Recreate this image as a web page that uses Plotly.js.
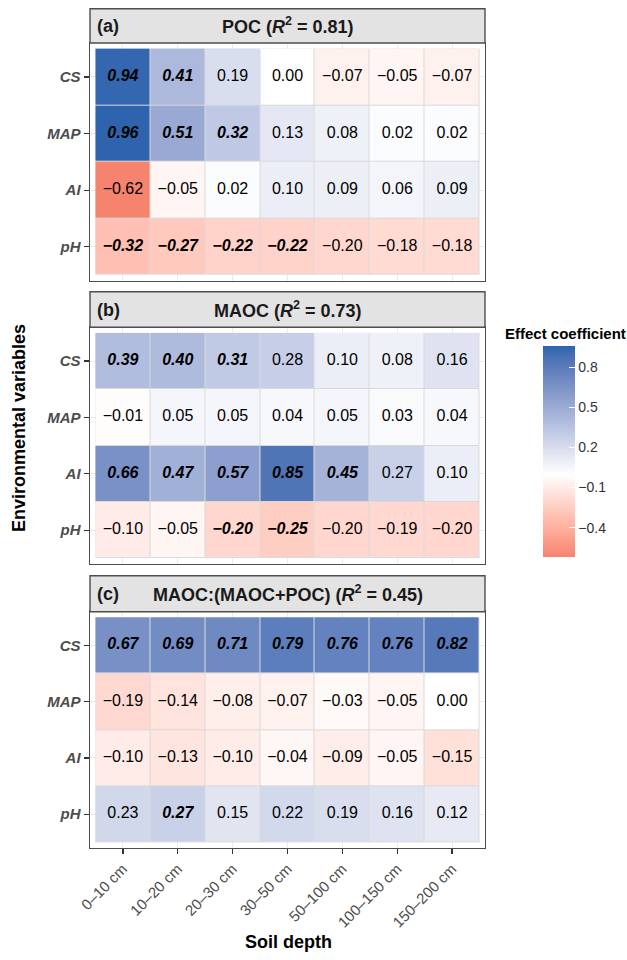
<!DOCTYPE html>
<html>
<head>
<meta charset="utf-8">
<script src="https://cdn.plot.ly/plotly-3.0.1.min.js"></script>
<style>html,body{margin:0;padding:0;background:#fff;}#chart{width:627px;height:960px;}</style>
</head>
<body>
<div id="chart"></div>
<script>
// ---------- data ----------
const depths = ["0–10 cm","10–20 cm","20–30 cm","30–50 cm","50–100 cm","100–150 cm","150–200 cm"];
const variables = ["CS","MAP","AI","pH"];

const pocValues = [
  [0.94, 0.41, 0.19, 0.00, -0.07, -0.05, -0.07],
  [0.96, 0.51, 0.32, 0.13, 0.08, 0.02, 0.02],
  [-0.62, -0.05, 0.02, 0.10, 0.09, 0.06, 0.09],
  [-0.32, -0.27, -0.22, -0.22, -0.20, -0.18, -0.18]
];
const pocSig = [
  [1,1,0,0,0,0,0],
  [1,1,1,0,0,0,0],
  [0,0,0,0,0,0,0],
  [1,1,1,1,0,0,0]
];
const maocValues = [
  [0.39, 0.40, 0.31, 0.28, 0.10, 0.08, 0.16],
  [-0.01, 0.05, 0.05, 0.04, 0.05, 0.03, 0.04],
  [0.66, 0.47, 0.57, 0.85, 0.45, 0.27, 0.10],
  [-0.10, -0.05, -0.20, -0.25, -0.20, -0.19, -0.20]
];
const maocSig = [
  [1,1,1,0,0,0,0],
  [0,0,0,0,0,0,0],
  [1,1,1,1,1,0,0],
  [0,0,1,1,0,0,0]
];
const ratioValues = [
  [0.67, 0.69, 0.71, 0.79, 0.76, 0.76, 0.82],
  [-0.19, -0.14, -0.08, -0.07, -0.03, -0.05, 0.00],
  [-0.10, -0.13, -0.10, -0.04, -0.09, -0.05, -0.15],
  [0.23, 0.27, 0.15, 0.22, 0.19, 0.16, 0.12]
];
const ratioSig = [
  [1,1,1,1,1,1,1],
  [0,0,0,0,0,0,0],
  [0,0,0,0,0,0,0],
  [0,1,0,0,0,0,0]
];
const panelTags = ["(a)", "(b)", "(c)"];
const panelNames = ["POC", "MAOC", "MAOC:(MAOC+POC)"];
const panelR2 = ["0.81", "0.73", "0.45"];
const colorbarTicks = [0.8, 0.5, 0.2, -0.1, -0.4];

// ---------- styling helpers ----------
const W = 627, H = 960;
const fx = p => p / W;
const fy = p => 1 - p / H;
const FONT = "Liberation Sans, Arial, Helvetica, sans-serif";

const allVals = pocValues.concat(maocValues, ratioValues).flat();
const zmin = Math.min(...allVals), zmax = Math.max(...allVals);

// Lab interpolation for the diverging scale
function hexToRgb(h){h=h.replace('#','');return [0,2,4].map(i=>parseInt(h.substr(i,2),16));}
function srgbToLin(c){c/=255;return c<=0.04045?c/12.92:Math.pow((c+0.055)/1.055,2.4);}
function linToSrgb(c){c=Math.max(0,Math.min(1,c));return Math.round(255*(c<=0.0031308?12.92*c:1.055*Math.pow(c,1/2.4)-0.055));}
function rgbToLab(rgb){
  const [r,g,b]=rgb.map(srgbToLin);
  let X=(0.4124*r+0.3576*g+0.1805*b)/0.95047, Y=0.2126*r+0.7152*g+0.0722*b, Z=(0.0193*r+0.1192*g+0.9505*b)/1.08883;
  const f=t=>t>0.008856?Math.cbrt(t):7.787*t+16/116;
  const fX=f(X),fY=f(Y),fZ=f(Z);
  return [116*fY-16,500*(fX-fY),200*(fY-fZ)];
}
function labToRgb(lab){
  const [L,a,b]=lab; const fY=(L+16)/116, fX=fY+a/500, fZ=fY-b/200;
  const fi=t=>t*t*t>0.008856?t*t*t:(t-16/116)/7.787;
  const X=fi(fX)*0.95047, Y=fi(fY), Z=fi(fZ)*1.08883;
  const r=3.2406*X-1.5372*Y-0.4986*Z, g=-0.9689*X+1.8758*Y+0.0415*Z, bb=0.0557*X-0.2040*Y+1.0570*Z;
  return 'rgb('+linToSrgb(r)+','+linToSrgb(g)+','+linToSrgb(bb)+')';
}
const lowCol = rgbToLab(hexToRgb('#F5836E'));
const midCol = rgbToLab(hexToRgb('#FFFFFF'));
const highCol = rgbToLab(hexToRgb('#2E64AD'));
const midPos = (0 - zmin) / (zmax - zmin);
const colorscale = [];
const N = 12;
for (let i = 0; i <= N; i++) {
  const t = i / N;
  colorscale.push([midPos * t, labToRgb(lowCol.map((v,k)=>v+(midCol[k]-v)*t))]);
}
for (let i = 1; i <= N; i++) {
  const t = i / N;
  colorscale.push([midPos + (1 - midPos) * t, labToRgb(midCol.map((v,k)=>v+(highCol[k]-v)*t))]);
}

const fmt = v => (v < 0 ? "\u2212" : "") + Math.abs(v).toFixed(2);

const panels = [
  {vals: pocValues, sig: pocSig},
  {vals: maocValues, sig: maocSig},
  {vals: ratioValues, sig: ratioSig}
];

// colorbar geometry (pixels)
const cbTop = 346, cbBottom = 557, cbLeft = 543, cbThick = 32;

const traces = [];
panels.forEach((p, i) => {
  const xa = i === 0 ? 'x' : 'x' + (i + 1);
  const ya = i === 0 ? 'y' : 'y' + (i + 1);
  // grey underlay -> thin tile borders
  traces.push({
    type: 'heatmap', x: depths, y: variables,
    z: p.vals.map(r => r.map(() => 1)),
    colorscale: [[0, '#D9D9D9'], [1, '#D9D9D9']], showscale: false,
    hoverinfo: 'skip', xaxis: xa, yaxis: ya
  });
  traces.push({
    type: 'heatmap', x: depths, y: variables, z: p.vals,
    zmin: zmin, zmax: zmax, colorscale: colorscale,
    xgap: 1, ygap: 1, hoverinfo: 'skip',
    showscale: i === 0,
    colorbar: {
      xref: 'paper', yref: 'paper',
      x: fx(cbLeft), xanchor: 'left', y: fy((cbTop + cbBottom) / 2), yanchor: 'middle',
      xpad: 0, ypad: 0,
      lenmode: 'pixels', len: cbBottom - cbTop, thicknessmode: 'pixels', thickness: cbThick,
      outlinewidth: 0,
      tickmode: 'array', tickvals: colorbarTicks, ticktext: colorbarTicks.map(v => (v < 0 ? "\u2212" : "") + Math.abs(v).toFixed(1)),
      ticks: 'inside', ticklen: 6, tickcolor: '#ffffff', tickwidth: 1,
      tickfont: {family: FONT, size: 14, color: '#333333'}
    },
    xaxis: xa, yaxis: ya
  });
  const xs = [], ys = [], tx = [];
  p.vals.forEach((row, r) => row.forEach((v, c) => {
    xs.push(depths[c]); ys.push(variables[r]);
    tx.push(p.sig[r][c] ? '<b><i>' + fmt(v) + '</i></b>' : fmt(v));
  }));
  traces.push({
    type: 'scatter', mode: 'text', x: xs, y: ys, text: tx,
    textfont: {family: FONT, size: 16, color: '#000000'},
    hoverinfo: 'skip', showlegend: false, cliponaxis: false,
    xaxis: xa, yaxis: ya
  });
});

// panel geometry (pixels)
const panelPx = [[43, 280.7], [327.3, 564], [611.7, 848]];
const stripPx = [[8.8, 43], [291.7, 327.3], [575.7, 611.7]];
const left = 90, right = 485;

const layout = {
  width: W, height: H,
  margin: {l: 0, r: 0, t: 0, b: 0},
  paper_bgcolor: '#ffffff', plot_bgcolor: '#ffffff',
  showlegend: false,
  font: {family: FONT},
  shapes: [], annotations: []
};

panelPx.forEach((pp, i) => {
  const sfx = i === 0 ? '' : String(i + 1);
  layout['xaxis' + sfx] = {
    type: 'category', categoryorder: 'array', categoryarray: depths,
    domain: [fx(left), fx(right)], range: [-0.6, 6.6],
    anchor: 'y' + sfx, showgrid: true, gridcolor: '#EBEBEB', gridwidth: 1,
    zeroline: false, showline: true, mirror: true, linecolor: '#4D4D4D', linewidth: 1.4,
    ticks: i === 2 ? 'outside' : '', ticklen: 5, tickwidth: 1.3, tickcolor: '#333333',
    showticklabels: i === 2, tickangle: -45,
    tickfont: {family: FONT, size: 15, color: '#4D4D4D'},
    fixedrange: true
  };
  layout['yaxis' + sfx] = {
    type: 'category', categoryorder: 'array', categoryarray: variables,
    domain: [fy(pp[1]), fy(pp[0])], range: [3.6, -0.6],
    anchor: 'x' + sfx, showgrid: true, gridcolor: '#EBEBEB', gridwidth: 1,
    zeroline: false, showline: true, mirror: true, linecolor: '#4D4D4D', linewidth: 1.4,
    ticks: 'outside', ticklen: 5, tickwidth: 1.3, tickcolor: '#333333',
    tickfont: {family: FONT, size: 15, color: '#4D4D4D', style: 'italic', weight: 'bold'},
    fixedrange: true
  };
});

stripPx.forEach((sp, i) => {
  layout.shapes.push({
    type: 'rect', xref: 'paper', yref: 'paper',
    x0: fx(left), x1: fx(right), y0: fy(sp[1]), y1: fy(sp[0]),
    fillcolor: '#E3E3E3', line: {color: '#4D4D4D', width: 1.4}, layer: 'above'
  });
  const yc = fy((sp[0] + sp[1]) / 2);
  layout.annotations.push({
    xref: 'paper', yref: 'paper', x: fx(95), y: yc, xanchor: 'left', yanchor: 'middle',
    text: panelTags[i], showarrow: false,
    font: {family: FONT, size: 18, color: '#1A1A1A', weight: 'bold'}
  });
  layout.annotations.push({
    xref: 'paper', yref: 'paper', x: fx((left + right) / 2), y: yc, xanchor: 'center', yanchor: 'middle',
    text: panelNames[i] + ' (<i>R</i><sup>2</sup> = ' + panelR2[i] + ')', showarrow: false,
    font: {family: FONT, size: 18, color: '#1A1A1A', weight: 'bold'}
  });
});

// white ticks on the left side of the colour bar (the right-side ones come from the colorbar)
colorbarTicks.forEach(v => {
  const ypx = cbBottom - (v - zmin) / (zmax - zmin) * (cbBottom - cbTop);
  layout.shapes.push({
    type: 'line', xref: 'paper', yref: 'paper',
    x0: fx(cbLeft), x1: fx(cbLeft + 6), y0: fy(ypx), y1: fy(ypx),
    line: {color: '#ffffff', width: 1}, layer: 'above'
  });
});

layout.annotations.push({
  xref: 'paper', yref: 'paper', x: fx(19), y: fy(428), xanchor: 'center', yanchor: 'middle',
  text: 'Environmental variables', textangle: -90, showarrow: false,
  font: {family: FONT, size: 18, color: '#000000', weight: 'bold'}
});
layout.annotations.push({
  xref: 'paper', yref: 'paper', x: fx(288), y: fy(942), xanchor: 'center', yanchor: 'middle',
  text: 'Soil depth', showarrow: false,
  font: {family: FONT, size: 18, color: '#000000', weight: 'bold'}
});
layout.annotations.push({
  xref: 'paper', yref: 'paper', x: fx(565), y: fy(333), xanchor: 'center', yanchor: 'middle',
  text: 'Effect coefficient', showarrow: false,
  font: {family: FONT, size: 15, color: '#000000', weight: 'bold'}
});

Plotly.newPlot('chart', traces, layout, {staticPlot: true, displayModeBar: false});
</script>
</body>
</html>
